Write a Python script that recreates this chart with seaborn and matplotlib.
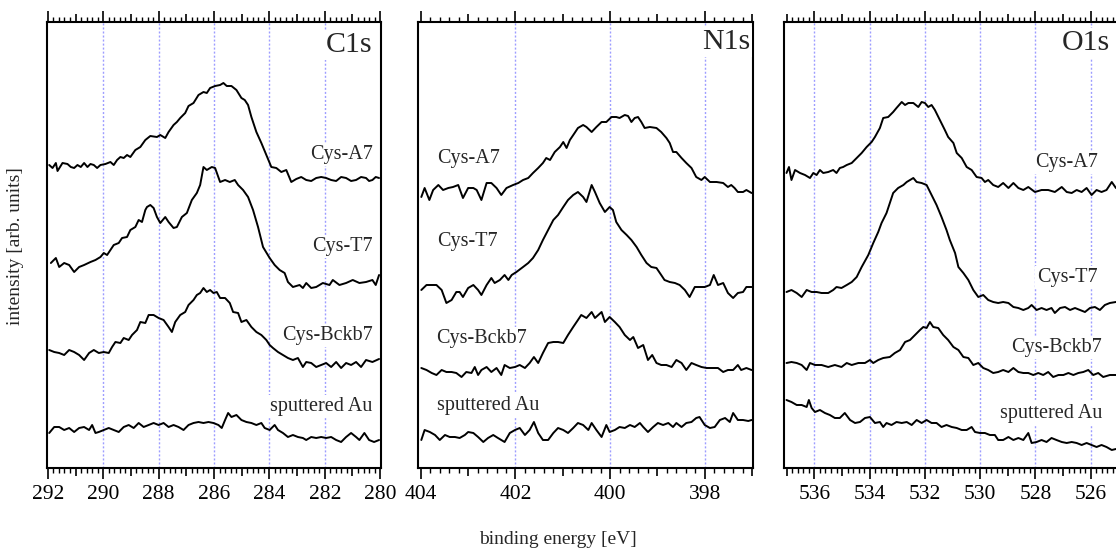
import matplotlib
matplotlib.use("Agg")
import matplotlib.pyplot as plt
from matplotlib.ticker import MultipleLocator, FuncFormatter
import pandas as pd
import seaborn as sns

# ---------------- C1s region ----------------
C1S_A7_E = [291.95, 291.83, 291.71, 291.65, 291.47, 291.29, 291.17, 291.05, 290.93, 290.81,
            290.69, 290.57, 290.46, 290.34, 290.22, 290.10, 289.92, 289.74, 289.62, 289.50,
            289.38, 289.26, 289.14, 289.02, 288.84, 288.66, 288.48, 288.30, 288.06, 287.94,
            287.76, 287.64, 287.46, 287.34, 287.22, 287.04, 286.92, 286.74, 286.56, 286.38,
            286.26, 286.14, 285.96, 285.78, 285.66, 285.54, 285.37, 285.19, 285.01, 284.89,
            284.77, 284.65, 284.47, 284.29, 284.11, 283.93, 283.75, 283.57, 283.39, 283.21,
            283.03, 282.85, 282.67, 282.49, 282.31, 282.13, 281.95, 281.77, 281.59, 281.41,
            281.23, 281.05, 280.87, 280.69, 280.51, 280.40, 280.28, 280.16, 280.04]
C1S_A7_I = [303, 300, 305, 297, 305, 304, 301, 300, 303, 301,
            305, 301, 304, 303, 300, 303, 304, 306, 303, 308,
            311, 310, 313, 311, 318, 321, 328, 332, 331, 333,
            330, 336, 343, 346, 350, 355, 362, 365, 373, 376,
            375, 380, 382, 383, 385, 382, 382, 378, 370, 368,
            363, 351, 336, 325, 313, 301, 300, 296, 298, 286,
            289, 291, 288, 287, 290, 291, 290, 288, 287, 291,
            290, 287, 288, 291, 290, 287, 288, 291, 290]

C1S_T7_E = [291.89, 291.71, 291.59, 291.41, 291.23, 291.05, 290.87, 290.69, 290.46, 290.28,
            290.10, 289.98, 289.86, 289.74, 289.62, 289.44, 289.32, 289.14, 289.02, 288.84,
            288.72, 288.60, 288.48, 288.42, 288.30, 288.18, 288.06, 287.94, 287.76, 287.64,
            287.46, 287.34, 287.16, 286.98, 286.80, 286.62, 286.50, 286.38, 286.26, 286.08,
            285.96, 285.78, 285.60, 285.43, 285.25, 285.13, 284.95, 284.77, 284.59, 284.41,
            284.23, 283.99, 283.81, 283.63, 283.45, 283.33, 283.15, 282.91, 282.79, 282.67,
            282.49, 282.31, 282.07, 281.83, 281.71, 281.47, 281.23, 280.99, 280.75, 280.51,
            280.28, 280.16, 280.04]
C1S_T7_I = [205, 210, 201, 205, 203, 196, 201, 203, 206, 208,
            211, 215, 213, 218, 223, 225, 230, 231, 238, 241,
            248, 246, 258, 261, 263, 260, 251, 245, 251, 246,
            240, 241, 251, 255, 268, 275, 283, 301, 298, 301,
            300, 286, 288, 286, 288, 283, 278, 271, 258, 241,
            221, 210, 203, 198, 195, 186, 181, 183, 180, 185,
            180, 181, 185, 183, 188, 183, 185, 188, 185, 186,
            188, 183, 193]

C1S_BCKB7_E = [291.95, 291.77, 291.59, 291.41, 291.23, 291.05, 290.87, 290.69, 290.51, 290.34,
               290.16, 289.98, 289.80, 289.68, 289.56, 289.38, 289.26, 289.08, 288.96, 288.78,
               288.66, 288.48, 288.36, 288.18, 288.00, 287.82, 287.64, 287.52, 287.40, 287.22,
               287.04, 286.92, 286.74, 286.62, 286.50, 286.38, 286.26, 286.14, 286.02, 285.90,
               285.78, 285.60, 285.43, 285.31, 285.13, 285.01, 284.83, 284.65, 284.47, 284.29,
               284.11, 283.99, 283.87, 283.69, 283.51, 283.33, 283.15, 282.97, 282.79, 282.67,
               282.49, 282.31, 282.13, 281.95, 281.77, 281.59, 281.41, 281.23, 281.05, 280.87,
               280.69, 280.51, 280.28, 280.04]
C1S_BCKB7_I = [118, 116, 115, 113, 118, 116, 113, 108, 115, 118,
               115, 116, 115, 121, 126, 125, 130, 128, 133, 138,
               146, 145, 153, 153, 150, 148, 141, 136, 146, 153,
               156, 163, 168, 173, 175, 180, 176, 178, 175, 176,
               170, 170, 165, 156, 155, 146, 148, 141, 136, 133,
               128, 123, 120, 116, 113, 110, 108, 110, 101, 106,
               105, 101, 103, 105, 101, 106, 100, 105, 103, 106,
               101, 108, 106, 109]

C1S_AU_E = [291.95, 291.77, 291.59, 291.41, 291.23, 291.05, 290.87, 290.69, 290.51, 290.40,
            290.28, 290.16, 289.98, 289.80, 289.62, 289.44, 289.26, 289.08, 288.90, 288.72,
            288.54, 288.36, 288.18, 288.00, 287.82, 287.64, 287.46, 287.28, 287.10, 286.92,
            286.74, 286.56, 286.38, 286.20, 286.02, 285.84, 285.72, 285.60, 285.49, 285.37,
            285.19, 285.01, 284.83, 284.65, 284.47, 284.29, 284.17, 283.99, 283.81, 283.69,
            283.51, 283.33, 283.15, 282.97, 282.79, 282.67, 282.49, 282.31, 282.13, 281.95,
            281.77, 281.59, 281.41, 281.23, 281.05, 280.87, 280.75, 280.57, 280.40, 280.22,
            280.04]
C1S_AU_I = [35, 41, 41, 38, 40, 36, 40, 41, 38, 43,
            35, 36, 38, 40, 38, 36, 41, 43, 40, 45,
            41, 43, 45, 43, 45, 41, 43, 41, 38, 43,
            45, 46, 45, 46, 45, 43, 40, 48, 55, 51,
            53, 48, 46, 45, 43, 45, 40, 38, 43, 38,
            35, 31, 33, 31, 30, 28, 31, 30, 31, 30,
            31, 28, 26, 31, 35, 31, 28, 35, 28, 26,
            28]

# ---------------- N1s region ----------------
N1S_A7_E = [403.99, 403.92, 403.82, 403.74, 403.63, 403.53, 403.42, 403.32, 403.21, 403.11,
            403.00, 402.89, 402.82, 402.72, 402.61, 402.51, 402.40, 402.30, 402.19, 402.05,
            401.94, 401.84, 401.73, 401.63, 401.52, 401.42, 401.35, 401.27, 401.17, 401.06,
            400.99, 400.92, 400.85, 400.75, 400.68, 400.57, 400.50, 400.39, 400.29, 400.18,
            400.08, 399.97, 399.87, 399.80, 399.69, 399.62, 399.55, 399.48, 399.41, 399.34,
            399.27, 399.16, 399.02, 398.92, 398.81, 398.74, 398.67, 398.60, 398.49, 398.39,
            398.28, 398.18, 398.07, 398.00, 397.89, 397.75, 397.61, 397.51, 397.44, 397.37,
            397.30, 397.19, 397.12, 397.01]
N1S_A7_I = [271, 280, 268, 278, 283, 278, 280, 281, 283, 270,
            280, 280, 278, 268, 285, 285, 280, 273, 280, 283,
            285, 288, 290, 295, 300, 305, 310, 308, 316, 321,
            326, 320, 328, 335, 340, 343, 341, 336, 341, 346,
            346, 351, 351, 350, 353, 352, 346, 350, 351, 346,
            340, 341, 340, 336, 330, 325, 316, 316, 310, 305,
            300, 291, 288, 291, 286, 286, 285, 281, 283, 280,
            276, 276, 278, 275]

N1S_T7_E = [403.99, 403.88, 403.77, 403.67, 403.56, 403.46, 403.35, 403.25, 403.18, 403.11,
            403.00, 402.89, 402.79, 402.72, 402.61, 402.51, 402.44, 402.33, 402.23, 402.15,
            402.08, 401.98, 401.84, 401.73, 401.63, 401.52, 401.42, 401.31, 401.20, 401.10,
            400.99, 400.89, 400.78, 400.68, 400.57, 400.50, 400.39, 400.32, 400.22, 400.11,
            400.01, 399.94, 399.87, 399.76, 399.65, 399.55, 399.44, 399.34, 399.23, 399.13,
            399.02, 398.92, 398.85, 398.74, 398.63, 398.53, 398.42, 398.32, 398.21, 398.11,
            398.00, 397.89, 397.81, 397.72, 397.61, 397.51, 397.40, 397.30, 397.19, 397.12,
            397.01]
N1S_T7_I = [178, 183, 183, 183, 178, 165, 168, 176, 176, 171,
            180, 183, 178, 173, 183, 190, 185, 188, 193, 188,
            193, 196, 201, 205, 210, 218, 228, 238, 248, 253,
            261, 268, 273, 276, 271, 266, 283, 276, 265, 256,
            261, 258, 246, 238, 233, 228, 221, 213, 205, 201,
            200, 193, 188, 186, 185, 183, 178, 171, 181, 181,
            181, 183, 193, 183, 185, 175, 170, 175, 176, 181,
            181]

N1S_BCKB7_E = [403.99, 403.88, 403.77, 403.67, 403.56, 403.46, 403.35, 403.25, 403.14, 403.04,
               402.93, 402.86, 402.79, 402.72, 402.61, 402.51, 402.40, 402.30, 402.23, 402.12,
               402.01, 401.91, 401.80, 401.70, 401.61, 401.52, 401.42, 401.31, 401.20, 401.10,
               400.99, 400.89, 400.78, 400.68, 400.61, 400.50, 400.39, 400.32, 400.25, 400.18,
               400.11, 400.01, 399.90, 399.80, 399.69, 399.58, 399.51, 399.41, 399.30, 399.20,
               399.11, 399.02, 398.92, 398.81, 398.70, 398.60, 398.49, 398.39, 398.28, 398.18,
               398.07, 397.96, 397.82, 397.72, 397.61, 397.51, 397.40, 397.30, 397.23, 397.12,
               397.01]
N1S_BCKB7_I = [100, 98, 95, 93, 98, 96, 96, 95, 91, 96,
               95, 101, 93, 98, 101, 96, 100, 93, 103, 100,
               101, 103, 100, 105, 111, 105, 115, 125, 126, 126,
               125, 133, 141, 148, 153, 150, 156, 150, 153, 156,
               146, 151, 146, 141, 133, 128, 131, 120, 123, 108,
               113, 105, 103, 103, 101, 108, 105, 98, 105, 103,
               101, 100, 100, 100, 96, 98, 98, 103, 98, 100,
               98]

N1S_AU_E = [403.99, 403.92, 403.81, 403.70, 403.60, 403.49, 403.39, 403.28, 403.18, 403.07,
            403.00, 402.89, 402.79, 402.68, 402.58, 402.47, 402.37, 402.23, 402.12, 402.01,
            401.91, 401.80, 401.70, 401.61, 401.52, 401.42, 401.31, 401.20, 401.10, 400.99,
            400.89, 400.78, 400.68, 400.57, 400.46, 400.39, 400.29, 400.18, 400.08, 400.01,
            399.90, 399.80, 399.69, 399.58, 399.48, 399.37, 399.30, 399.20, 399.09, 398.99,
            398.88, 398.77, 398.67, 398.60, 398.49, 398.39, 398.28, 398.18, 398.11, 398.00,
            397.89, 397.79, 397.68, 397.57, 397.47, 397.40, 397.30, 397.19, 397.08, 397.01]
N1S_AU_I = [28, 38, 36, 33, 28, 33, 31, 31, 30, 33,
            36, 35, 31, 26, 30, 33, 30, 26, 35, 38,
            40, 33, 38, 46, 35, 28, 28, 35, 40, 38,
            35, 40, 45, 43, 38, 45, 38, 31, 43, 36,
            38, 41, 40, 43, 41, 45, 41, 36, 41, 45,
            43, 45, 41, 45, 41, 45, 46, 50, 51, 43,
            40, 41, 48, 50, 46, 55, 48, 48, 47, 48]

# ---------------- O1s region ----------------
O1S_A7_E = [537.01, 536.92, 536.83, 536.70, 536.52, 536.34, 536.16, 536.04, 535.92, 535.80,
            535.68, 535.50, 535.32, 535.20, 535.08, 534.96, 534.83, 534.65, 534.47, 534.29,
            534.11, 533.93, 533.81, 533.63, 533.51, 533.33, 533.15, 533.03, 532.84, 532.72,
            532.60, 532.42, 532.24, 532.12, 532.00, 531.88, 531.76, 531.64, 531.46, 531.28,
            531.16, 530.97, 530.85, 530.67, 530.49, 530.31, 530.13, 529.95, 529.83, 529.71,
            529.53, 529.35, 529.17, 528.98, 528.80, 528.62, 528.44, 528.26, 528.02, 527.78,
            527.54, 527.30, 527.05, 526.87, 526.69, 526.51, 526.33, 526.15, 525.97, 525.79,
            525.61, 525.43, 525.24, 525.09]
O1S_A7_I = [295, 301, 288, 298, 295, 293, 290, 295, 293, 298,
            295, 296, 298, 295, 300, 301, 303, 305, 310, 315,
            321, 326, 331, 340, 350, 351, 356, 360, 366, 363,
            365, 365, 361, 366, 365, 361, 363, 358, 348, 338,
            331, 325, 315, 310, 301, 298, 291, 290, 286, 288,
            283, 281, 285, 280, 285, 280, 278, 281, 276, 278,
            278, 276, 281, 276, 275, 278, 276, 280, 273, 278,
            276, 278, 286, 280]

O1S_T7_E = [537.01, 536.83, 536.64, 536.46, 536.28, 536.10, 535.92, 535.74, 535.50, 535.32,
            535.20, 535.02, 534.83, 534.65, 534.47, 534.29, 534.05, 533.87, 533.69, 533.57,
            533.39, 533.27, 533.15, 532.97, 532.78, 532.66, 532.54, 532.42, 532.30, 532.12,
            531.94, 531.76, 531.58, 531.40, 531.22, 531.10, 530.91, 530.79, 530.61, 530.43,
            530.25, 530.07, 529.89, 529.71, 529.53, 529.35, 529.17, 528.98, 528.80, 528.62,
            528.44, 528.26, 528.14, 527.96, 527.78, 527.60, 527.42, 527.30, 527.11, 526.93,
            526.75, 526.57, 526.39, 526.21, 526.03, 525.85, 525.67, 525.49, 525.31, 525.09]
O1S_T7_I = [176, 178, 175, 171, 178, 176, 176, 175, 175, 178,
            181, 180, 183, 186, 191, 201, 213, 225, 236, 245,
            255, 265, 275, 280, 283, 286, 288, 290, 286, 285,
            283, 273, 263, 251, 238, 228, 215, 201, 195, 188,
            178, 171, 173, 168, 166, 165, 166, 165, 161, 160,
            158, 160, 163, 158, 160, 158, 160, 155, 160, 161,
            158, 160, 158, 156, 160, 161, 158, 163, 165, 166]

O1S_BCKB7_E = [537.01, 536.83, 536.64, 536.46, 536.28, 536.16, 535.98, 535.74, 535.50, 535.26,
               535.02, 534.83, 534.65, 534.41, 534.17, 533.99, 533.87, 533.69, 533.51, 533.27,
               533.09, 532.90, 532.72, 532.54, 532.36, 532.18, 532.06, 531.94, 531.82, 531.70,
               531.52, 531.34, 531.16, 530.97, 530.79, 530.61, 530.43, 530.25, 530.07, 529.89,
               529.71, 529.53, 529.35, 529.17, 528.98, 528.80, 528.62, 528.44, 528.26, 528.08,
               527.90, 527.72, 527.54, 527.36, 527.17, 526.99, 526.81, 526.63, 526.45, 526.27,
               526.09, 525.91, 525.73, 525.55, 525.31, 525.09]
O1S_BCKB7_I = [105, 106, 105, 103, 98, 105, 103, 103, 101, 103,
               101, 105, 103, 105, 105, 108, 105, 108, 110, 111,
               115, 118, 126, 128, 133, 138, 141, 140, 146, 141,
               140, 133, 128, 121, 118, 111, 110, 103, 105, 100,
               98, 95, 96, 98, 96, 100, 96, 95, 95, 93,
               95, 93, 96, 91, 93, 93, 95, 93, 95, 96,
               98, 93, 95, 91, 93, 93]

O1S_AU_E = [537.01, 536.83, 536.64, 536.46, 536.28, 536.20, 536.10, 535.98, 535.80, 535.62,
            535.44, 535.26, 535.08, 534.90, 534.71, 534.53, 534.35, 534.17, 533.99, 533.81,
            533.63, 533.51, 533.39, 533.21, 533.03, 532.84, 532.66, 532.48, 532.30, 532.12,
            531.94, 531.76, 531.58, 531.40, 531.22, 531.03, 530.85, 530.67, 530.49, 530.31,
            530.19, 530.01, 529.83, 529.65, 529.47, 529.35, 529.17, 528.98, 528.80, 528.62,
            528.44, 528.26, 528.14, 527.96, 527.78, 527.60, 527.42, 527.24, 527.05, 526.87,
            526.69, 526.51, 526.33, 526.15, 525.97, 525.79, 525.61, 525.43, 525.24, 525.09]
O1S_AU_I = [68, 66, 63, 63, 61, 68, 60, 56, 58, 55,
            53, 50, 50, 55, 48, 45, 46, 50, 51, 45,
            46, 41, 45, 43, 46, 45, 46, 43, 48, 45,
            48, 45, 45, 41, 43, 41, 40, 38, 38, 41,
            36, 35, 35, 33, 33, 28, 28, 31, 28, 30,
            28, 35, 25, 26, 28, 26, 30, 28, 26, 25,
            26, 25, 23, 25, 23, 21, 23, 21, 18, 19]

SAMPLES = ["Cys-A7", "Cys-T7", "Cys-Bckb7", "sputtered Au"]
REGIONS = ["C1s", "N1s", "O1s"]
XLIMS = {"C1s": (292.03, 279.97), "N1s": (404.06, 396.98), "O1s": (537.10, 525.00)}
GRID_EV = {"C1s": [290, 288, 286, 284, 282],
           "N1s": [402, 400, 398],
           "O1s": [536, 534, 532, 530, 528, 526]}

curves = {
    ("C1s", "Cys-A7"): (C1S_A7_E, C1S_A7_I),
    ("C1s", "Cys-T7"): (C1S_T7_E, C1S_T7_I),
    ("C1s", "Cys-Bckb7"): (C1S_BCKB7_E, C1S_BCKB7_I),
    ("C1s", "sputtered Au"): (C1S_AU_E, C1S_AU_I),
    ("N1s", "Cys-A7"): (N1S_A7_E, N1S_A7_I),
    ("N1s", "Cys-T7"): (N1S_T7_E, N1S_T7_I),
    ("N1s", "Cys-Bckb7"): (N1S_BCKB7_E, N1S_BCKB7_I),
    ("N1s", "sputtered Au"): (N1S_AU_E, N1S_AU_I),
    ("O1s", "Cys-A7"): (O1S_A7_E, O1S_A7_I),
    ("O1s", "Cys-T7"): (O1S_T7_E, O1S_T7_I),
    ("O1s", "Cys-Bckb7"): (O1S_BCKB7_E, O1S_BCKB7_I),
    ("O1s", "sputtered Au"): (O1S_AU_E, O1S_AU_I),
}

rows = []
for (region, sample), (ev, inten) in curves.items():
    for e, i in zip(ev, inten):
        rows.append({"region": region, "sample": sample, "energy": e, "intensity": i})
df = pd.DataFrame(rows)

sns.set_style("white")
plt.rcParams["font.family"] = ["Liberation Serif", "DejaVu Serif"]
plt.rcParams["axes.linewidth"] = 1.5
plt.rcParams["axes.edgecolor"] = "black"

W, H = 1116, 554
fig = plt.figure(figsize=(W / 100, H / 100), dpi=100)
panel_px = {"C1s": (47, 334.0), "N1s": (418, 335.0), "O1s": (784, 334.4)}
top_px, bot_px = 22, 468

# sample label placement: (x, y, ha) in axes fraction
label_pos = {
    "C1s": [(0.976, 0.702, "right"), (0.976, 0.496, "right"),
            (0.976, 0.298, "right"), (0.973, 0.137, "right")],
    "N1s": [(0.057, 0.693, "left"), (0.057, 0.507, "left"),
            (0.054, 0.291, "left"), (0.057, 0.141, "left")],
    "O1s": [(0.939, 0.684, "right"), (0.939, 0.428, "right"),
            (0.951, 0.271, "right"), (0.951, 0.123, "right")],
}
title_pos = {"C1s": (0.973, 0.948), "N1s": (0.991, 0.955), "O1s": (0.975, 0.953)}

def even_label(v, pos):
    n = int(round(v))
    return f"{n}" if n % 2 == 0 else ""

for region in REGIONS:
    left, width = panel_px[region]
    ax = fig.add_axes([left / W, (H - bot_px) / H, width / W, (bot_px - top_px) / H])
    sub = df[df["region"] == region]
    for sample in SAMPLES:
        s = sub[sub["sample"] == sample]
        sns.lineplot(data=s, x="energy", y="intensity", ax=ax, color="black",
                     linewidth=1.4, estimator=None, sort=False, zorder=4)
    for g in GRID_EV[region]:
        ax.axvline(g, color="#9d9dff", linestyle=(0, (1.45, 1.45)), linewidth=1.0,
                   zorder=1)

    ax.set_xlim(*XLIMS[region])
    ax.set_ylim(0, bot_px - top_px)
    ax.set_yticks([])
    ax.set_xlabel("")
    ax.set_ylabel("")
    for sp in ax.spines.values():
        sp.set_linewidth(1.5)
        sp.set_color("black")

    ax.xaxis.set_major_locator(MultipleLocator(1))
    ax.xaxis.set_minor_locator(MultipleLocator(0.2))
    ax.xaxis.set_major_formatter(FuncFormatter(even_label))
    ax.tick_params(axis="x", which="both", direction="out", bottom=True, top=True,
                   labelbottom=True, labeltop=False, colors="black")
    ax.tick_params(axis="x", which="major", length=8, width=1.2, pad=4, labelsize=15.5)
    ax.tick_params(axis="x", which="minor", length=3.6, width=1.0)
    # odd-eV ticks are drawn a little shorter than the labelled even-eV ticks
    locs = ax.xaxis.get_majorticklocs()
    for t, v in zip(ax.xaxis.get_major_ticks(len(locs)), locs):
        if int(round(v)) % 2:
            t.tick1line.set_markersize(6)
            t.tick2line.set_markersize(6)

    tx, ty = title_pos[region]
    ax.text(tx, ty, region, transform=ax.transAxes, ha="right", va="center",
            fontsize=21.5, zorder=5,
            bbox=dict(facecolor="white", edgecolor="none", pad=1.5))
    for sample, (x, y, ha) in zip(SAMPLES, label_pos[region]):
        ax.text(x, y, sample, transform=ax.transAxes, ha=ha, va="center",
                fontsize=14.5, zorder=5,
                bbox=dict(facecolor="white", edgecolor="none", pad=1.5))

fig.text(558 / W, 1 - 540 / H, "binding energy [eV]", ha="center", va="center", fontsize=14)
fig.text(16 / W, 1 - 246 / H, "intensity [arb. units]", ha="center", va="center",
         rotation=90, fontsize=14)

fig.savefig("out.png", dpi=100, facecolor="white")
